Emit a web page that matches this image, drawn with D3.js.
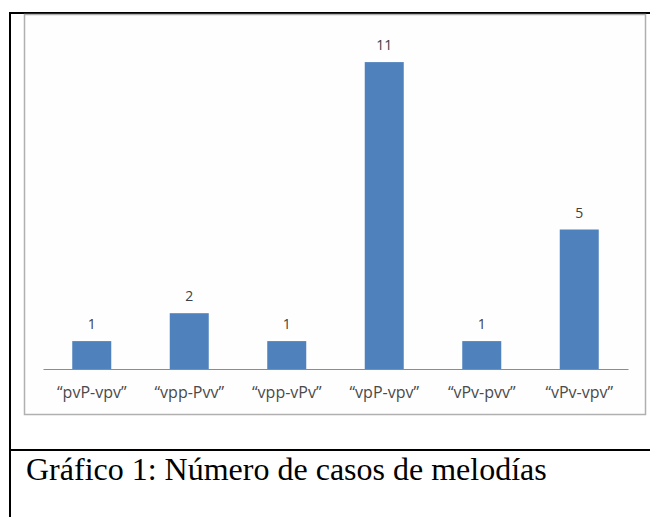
<!DOCTYPE html>
<html>
<head>
<meta charset="utf-8">
<script src="https://cdn.jsdelivr.net/npm/d3@7"></script>
<style>
  html, body { margin: 0; padding: 0; background: #ffffff; }
  svg { display: block; }
</style>
</head>
<body>
<svg id="chart" width="650" height="517"></svg>
<script>
const categories = ["\u201cpvP-vpv\u201d", "\u201cvpp-Pvv\u201d", "\u201cvpp-vPv\u201d", "\u201cvpP-vpv\u201d", "\u201cvPv-pvv\u201d", "\u201cvPv-vpv\u201d"];
const values = [1, 2, 1, 11, 1, 5];
const yDomain = [0, 12];
const caption = "Gr\u00e1fico 1: N\u00famero de casos de melod\u00edas";

const svg = d3.select("#chart");

// outer document table borders
svg.append("line").attr("x1", 9).attr("x2", 650).attr("y1", 13).attr("y2", 13)
  .attr("stroke", "#000").attr("stroke-width", 2);
svg.append("line").attr("x1", 10).attr("x2", 10).attr("y1", 12).attr("y2", 517)
  .attr("stroke", "#000").attr("stroke-width", 2);
svg.append("line").attr("x1", 9).attr("x2", 650).attr("y1", 450).attr("y2", 450)
  .attr("stroke", "#000").attr("stroke-width", 2);

// chart frame
svg.append("rect").attr("x", 24.5).attr("y", 14.5).attr("width", 621).attr("height", 400)
  .attr("fill", "#fefefe").attr("stroke", "#b0b0b0").attr("stroke-width", 1.5);

const x = d3.scaleBand().domain(categories).range([43, 628]).paddingInner(0.6).paddingOuter(0.3);
const y = d3.scaleLinear().domain(yDomain).range([369, 34.2]);

const data = categories.map((c, i) => ({ c, v: values[i] }));

svg.append("g").selectAll("rect").data(data).join("rect")
  .attr("x", d => x(d.c))
  .attr("y", d => y(d.v))
  .attr("width", x.bandwidth())
  .attr("height", d => y(0) - y(d.v))
  .attr("fill", "#4f81bd");

svg.append("g").selectAll("text").data(data).join("text")
  .attr("x", d => x(d.c) + x.bandwidth() / 2)
  .attr("y", d => y(d.v) - 12)
  .attr("text-anchor", "middle")
  .attr("font-family", "'Open Sans', Lato, sans-serif")
  .attr("font-size", 14)
  .attr("fill", "#404040")
  .text(d => d.v);

const axis = svg.append("g").attr("transform", "translate(0,369)")
  .call(d3.axisBottom(x).tickSize(0).tickSizeOuter(0).tickPadding(18));
axis.select(".domain").attr("stroke", "#8c8c8c").attr("stroke-width", 1.2);
axis.selectAll("text")
  .attr("font-family", "'Open Sans', Lato, sans-serif")
  .attr("font-size", 16)
  .attr("fill", "#4a4a4a");

svg.append("text").attr("x", 26).attr("y", 480)
  .attr("font-family", "'Liberation Serif', 'Times New Roman', serif")
  .attr("font-size", 32)
  .attr("fill", "#000")
  .text(caption);
</script>
</body>
</html>
